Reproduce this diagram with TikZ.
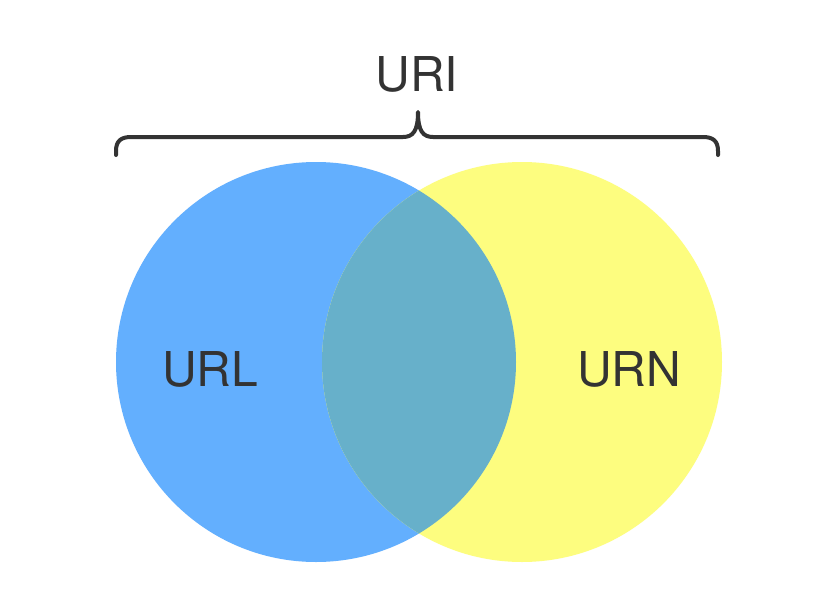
\documentclass[tikz,border=0pt]{standalone}
\usepackage{fontspec}
\setmainfont{TeX Gyre Heros}
\definecolor{urlblue}{HTML}{63AFFE}
\definecolor{urnyellow}{HTML}{FDFD7F}
\definecolor{lensblue}{HTML}{67B0CA}
\definecolor{ink}{HTML}{333333}
\begin{document}
\begin{tikzpicture}[x=1pt,y=-1pt,
  label/.style={text=ink,font=\fontsize{48}{56}\selectfont,anchor=base,inner sep=0pt},
  bracket/.style={draw=ink,line width=4pt,line cap=round,line join=round}]
\useasboundingbox (0,0) rectangle (839,595);
\fill[white] (0,0) rectangle (839,595);
\coordinate (cl) at (316,362);
\coordinate (cr) at (522,362);
\fill[urlblue] (cl) circle (200);
\fill[urnyellow] (cr) circle (200);
\begin{scope}
  \clip (cl) circle (200);
  \fill[lensblue] (cr) circle (200);
\end{scope}
\node[label] (url) at (210,386) {URL};
\node[label] (urn) at (629,386) {URN};
\node[label] (uri) at (417,91) {URI};
\coordinate (bl) at (116,155);
\coordinate (br) at (718,155);
\coordinate (tip) at (418,112);
\draw[bracket] (bl) -- (116,151) .. controls (116,141) and (121,137) .. (131,137)
  -- (403,137) .. controls (413,137) and (418,131) .. (tip)
  .. controls (418,131) and (423,137) .. (433,137)
  -- (703,137) .. controls (713,137) and (718,141) .. (718,151) -- (br);
\end{tikzpicture}
\end{document}
